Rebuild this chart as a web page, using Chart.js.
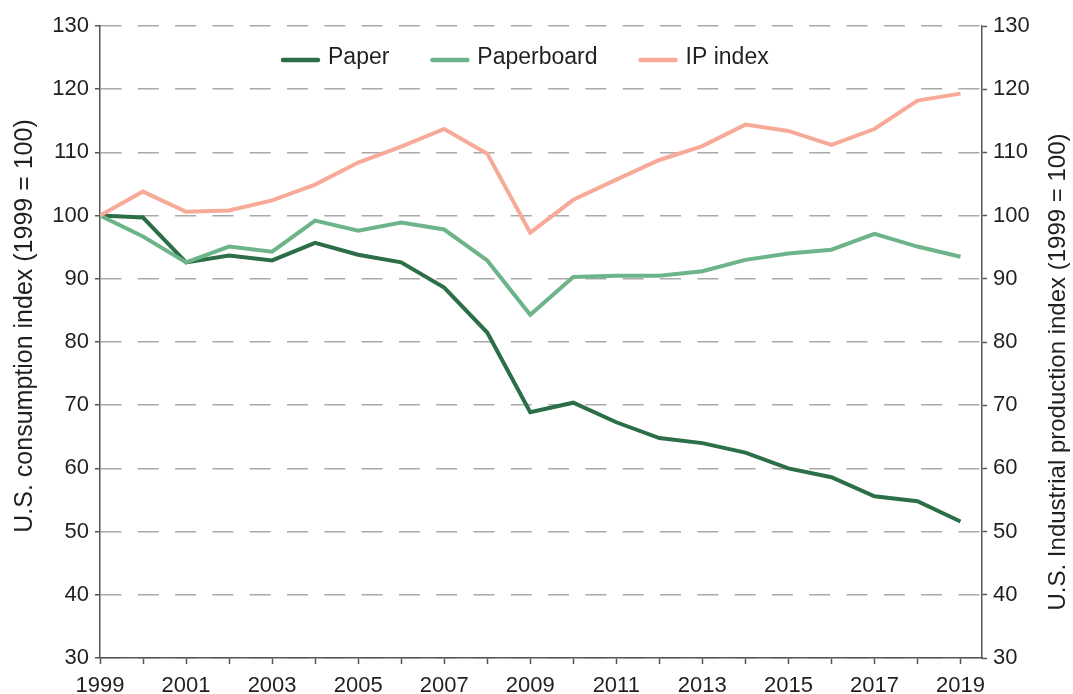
<!DOCTYPE html>
<html>
<head>
<meta charset="utf-8">
<title>U.S. paper and paperboard consumption vs. industrial production</title>
<script src="https://cdn.jsdelivr.net/npm/chart.js@4"></script>
<style>
  html, body { margin: 0; padding: 0; background: #fff; }
  #wrap { width: 1073px; height: 694px; position: relative; }
</style>
</head>
<body>
<div id="wrap"><canvas id="indexChart"></canvas></div>
<script>
// Index values, 1999 = 100
const years = [1999, 2000, 2001, 2002, 2003, 2004, 2005, 2006, 2007, 2008, 2009,
  2010, 2011, 2012, 2013, 2014, 2015, 2016, 2017, 2018, 2019];
const paper = [100, 99.7, 92.6, 93.7, 92.9, 95.7, 93.8, 92.6, 88.6, 81.5, 68.9,
  70.4, 67.3, 64.8, 64.0, 62.5, 60.0, 58.6, 55.6, 54.8, 51.6];
const paperboard = [100, 96.7, 92.6, 95.1, 94.3, 99.2, 97.6, 98.9, 97.8, 92.9, 84.3,
  90.3, 90.5, 90.5, 91.2, 93.0, 94.0, 94.6, 97.1, 95.1, 93.5];
const ipIndex = [100, 103.8, 100.6, 100.8, 102.4, 104.9, 108.4, 110.9, 113.7, 109.8, 97.3,
  102.5, 105.7, 108.8, 111.0, 114.4, 113.4, 111.2, 113.7, 118.2, 119.3];

const xLabels = ["1999", "2001", "2003", "2005", "2007", "2009", "2011", "2013", "2015", "2017", "2019"];
const yTicks = [30, 40, 50, 60, 70, 80, 90, 100, 110, 120, 130];
const leftTitle = "U.S. consumption index (1999 = 100)";
const rightTitle = "U.S. Industrial production index (1999 = 100)";

const FONT = "'Liberation Sans', Arial, Helvetica, sans-serif";
const textColor = "#231f20";
const axisColor = "#555555";

// legend sits inside the plot, and the right title reads bottom-to-top,
// so both are drawn here instead of by the built-in legend / title
const extras = {
  id: "extras",
  afterDraw(chart) {
    const ctx = chart.ctx;
    ctx.save();
    ctx.fillStyle = textColor;
    ctx.textBaseline = "middle";
    ctx.textAlign = "center";

    ctx.font = "25px " + FONT;
    ctx.save();
    ctx.translate(25, 326);
    ctx.rotate(-Math.PI / 2);
    ctx.fillText(leftTitle, 0, 0);
    ctx.restore();

    ctx.font = "24px " + FONT;
    ctx.save();
    ctx.translate(1058, 372);
    ctx.rotate(-Math.PI / 2);
    ctx.fillText(rightTitle, 0, 0);
    ctx.restore();

    ctx.font = "23px " + FONT;
    ctx.textAlign = "left";
    let x = 282;
    const y = 58;
    chart.data.datasets.forEach((ds) => {
      ctx.strokeStyle = ds.borderColor;
      ctx.lineWidth = 4.5;
      ctx.lineCap = "round";
      ctx.beginPath();
      ctx.moveTo(x + 1, y + 2);
      ctx.lineTo(x + 36, y + 2);
      ctx.stroke();
      ctx.fillText(ds.label, x + 46, y);
      x += 46 + ctx.measureText(ds.label).width + 42;
    });
    ctx.restore();
  },
};

const ctx = document.getElementById("indexChart").getContext("2d");
new Chart(ctx, {
  type: "line",
  data: {
    datasets: [
      {
        label: "Paper",
        data: years.map((yr, i) => ({ x: yr, y: paper[i] })),
        borderColor: "#2c6e47",
        borderWidth: 4,
        order: 2,
      },
      {
        label: "Paperboard",
        data: years.map((yr, i) => ({ x: yr, y: paperboard[i] })),
        borderColor: "#6db48a",
        borderWidth: 4,
        order: 1,
      },
      {
        label: "IP index",
        data: years.map((yr, i) => ({ x: yr, y: ipIndex[i] })),
        borderColor: "#f8aa98",
        borderWidth: 4,
        order: 0,
      },
    ],
  },
  options: {
    responsive: true,
    maintainAspectRatio: false,
    animation: false,
    layout: { padding: { top: 26 } },
    elements: {
      point: { radius: 0 },
      line: { tension: 0, borderJoinStyle: "miter" },
    },
    plugins: {
      legend: { display: false },
      tooltip: { enabled: false },
    },
    scales: {
      x: {
        type: "linear",
        min: 1999,
        max: 2019.5,
        afterFit: (s) => { s.height = 36; },
        ticks: {
          stepSize: 1,
          includeBounds: false,
          autoSkip: false,
          maxRotation: 0,
          padding: 9,
          color: textColor,
          font: { family: FONT, size: 22 },
          callback: (v) => (xLabels.includes(String(v)) ? String(v) : ""),
        },
        grid: {
          drawOnChartArea: false,
          drawTicks: true,
          tickLength: 6,
          tickColor: axisColor,
          tickWidth: 1.5,
        },
        border: { color: axisColor, width: 1.5 },
      },
      y: {
        position: "left",
        min: 30,
        max: 130,
        afterFit: (s) => { s.width = 100; },
        afterBuildTicks: (s) => { s.ticks = yTicks.map((v) => ({ value: v })); },
        ticks: {
          padding: 6,
          color: textColor,
          font: { family: FONT, size: 22 },
        },
        grid: {
          color: "#a9a9a9",
          lineWidth: 1.5,
          tickLength: 5,
          tickColor: axisColor,
          tickWidth: 1.5,
        },
        border: { color: axisColor, width: 1.5, dash: [21, 16.3] },
      },
      y1: {
        position: "right",
        min: 30,
        max: 130,
        afterFit: (s) => { s.width = 91; },
        afterBuildTicks: (s) => { s.ticks = yTicks.map((v) => ({ value: v })); },
        ticks: {
          padding: 6,
          color: textColor,
          font: { family: FONT, size: 22 },
        },
        grid: {
          drawOnChartArea: false,
          tickLength: 5,
          tickColor: axisColor,
          tickWidth: 1.5,
        },
        border: { color: axisColor, width: 1.5 },
      },
    },
  },
  plugins: [extras],
});
</script>
</body>
</html>
